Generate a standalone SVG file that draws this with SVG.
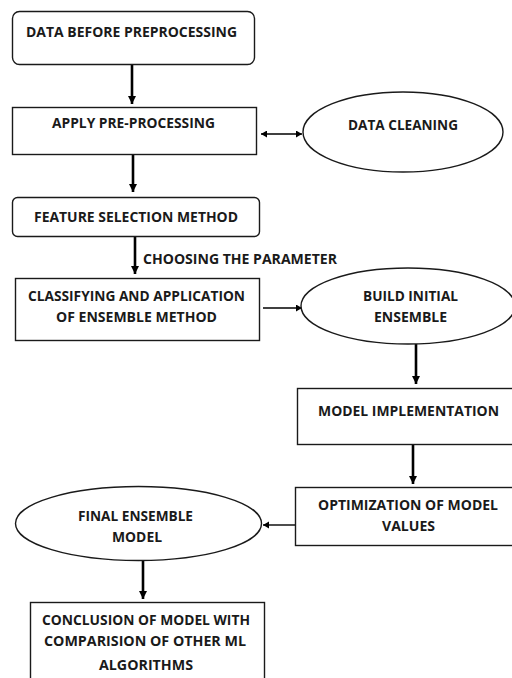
<svg xmlns="http://www.w3.org/2000/svg" width="512" height="678" viewBox="0 0 512 678">
  <style>
    .box { fill: #ffffff; stroke: #1a1a1a; stroke-width: 1.4; }
    .lbl { font-family: "Open Sans", "Liberation Sans", Arial, sans-serif; font-weight: bold; font-size: 13.5px; fill: #1a1a1a; }
    .flow { stroke: #000000; stroke-width: 2.6; fill: none; }
    .link { stroke: #000000; stroke-width: 1.4; fill: none; }
  </style>
  <defs>
    <marker id="head" markerUnits="userSpaceOnUse" markerWidth="10" markerHeight="10" refX="8" refY="4" orient="auto">
      <path d="M0,0 L8,4 L0,8 Z" fill="#000"/>
    </marker>
    <marker id="headS" markerUnits="userSpaceOnUse" markerWidth="8" markerHeight="8" refX="6" refY="3.5" orient="auto">
      <path d="M0,0 L6,3.5 L0,7 Z" fill="#000"/>
    </marker>
    <marker id="tailS" markerUnits="userSpaceOnUse" markerWidth="8" markerHeight="8" refX="0" refY="3.5" orient="auto">
      <path d="M6,0 L0,3.5 L6,7 Z" fill="#000"/>
    </marker>
  </defs>
  <rect width="512" height="678" fill="#ffffff"/>

  <g id="connectors">
    <line class="flow" x1="132" y1="64" x2="132" y2="104" marker-end="url(#head)"/>
    <line class="link" x1="261" y1="134" x2="302" y2="134" marker-start="url(#tailS)" marker-end="url(#headS)"/>
    <line class="flow" x1="133" y1="155" x2="133" y2="192" marker-end="url(#head)"/>
    <line class="flow" x1="135" y1="236" x2="135" y2="274" marker-end="url(#head)"/>
    <text class="lbl" x="143" y="264" textLength="194" lengthAdjust="spacingAndGlyphs">CHOOSING THE PARAMETER</text>
    <line class="link" x1="263" y1="308" x2="302" y2="308" marker-end="url(#headS)"/>
    <line class="flow" x1="416" y1="344" x2="416" y2="384" marker-end="url(#head)"/>
    <line class="flow" x1="413" y1="445" x2="413" y2="484" marker-end="url(#head)"/>
    <line class="link" x1="295" y1="525" x2="263" y2="525" marker-end="url(#headS)"/>
    <line class="flow" x1="143" y1="560" x2="143" y2="599" marker-end="url(#head)"/>
  </g>

  <g id="data-before">
    <rect class="box" x="12.5" y="11.5" width="242" height="53" rx="7"/>
    <text class="lbl" x="26" y="37" textLength="211" lengthAdjust="spacingAndGlyphs">DATA BEFORE PREPROCESSING</text>
  </g>

  <g id="apply-preprocessing">
    <rect class="box" x="12.5" y="107.5" width="244" height="47"/>
    <text class="lbl" x="52" y="128" textLength="163" lengthAdjust="spacingAndGlyphs">APPLY PRE-PROCESSING</text>
  </g>

  <g id="data-cleaning">
    <ellipse class="box" cx="403" cy="132" rx="100" ry="40"/>
    <text class="lbl" x="348" y="130" textLength="110" lengthAdjust="spacingAndGlyphs">DATA CLEANING</text>
  </g>

  <g id="feature-selection">
    <rect class="box" x="12.5" y="197.5" width="247" height="39" rx="5"/>
    <text class="lbl" x="34" y="222" textLength="204" lengthAdjust="spacingAndGlyphs">FEATURE SELECTION METHOD</text>
  </g>

  <g id="classifying">
    <rect class="box" x="15.5" y="278.5" width="244" height="62"/>
    <text class="lbl" x="28" y="301" textLength="217" lengthAdjust="spacingAndGlyphs">CLASSIFYING AND APPLICATION</text>
    <text class="lbl" x="56" y="322" textLength="161" lengthAdjust="spacingAndGlyphs">OF ENSEMBLE METHOD</text>
  </g>

  <g id="build-initial">
    <ellipse class="box" cx="408" cy="306" rx="107" ry="38"/>
    <text class="lbl" x="363" y="301" textLength="95" lengthAdjust="spacingAndGlyphs">BUILD INITIAL</text>
    <text class="lbl" x="374" y="322" textLength="73" lengthAdjust="spacingAndGlyphs">ENSEMBLE</text>
  </g>

  <g id="model-implementation">
    <rect class="box" x="297.5" y="388.5" width="230" height="56"/>
    <text class="lbl" x="318" y="416" textLength="181" lengthAdjust="spacingAndGlyphs">MODEL IMPLEMENTATION</text>
  </g>

  <g id="optimization">
    <rect class="box" x="295.5" y="487.5" width="230" height="58"/>
    <text class="lbl" x="318" y="510" textLength="180" lengthAdjust="spacingAndGlyphs">OPTIMIZATION OF MODEL</text>
    <text class="lbl" x="382" y="531" textLength="53" lengthAdjust="spacingAndGlyphs">VALUES</text>
  </g>

  <g id="final-ensemble">
    <ellipse class="box" cx="138.5" cy="523.5" rx="123" ry="37"/>
    <text class="lbl" x="78" y="521" textLength="115" lengthAdjust="spacingAndGlyphs">FINAL ENSEMBLE</text>
    <text class="lbl" x="112" y="542" textLength="50" lengthAdjust="spacingAndGlyphs">MODEL</text>
  </g>

  <g id="conclusion">
    <rect class="box" x="30.5" y="602.5" width="234" height="90"/>
    <text class="lbl" x="42" y="625" textLength="208" lengthAdjust="spacingAndGlyphs">CONCLUSION OF MODEL WITH</text>
    <text class="lbl" x="44" y="646" textLength="202" lengthAdjust="spacingAndGlyphs">COMPARISION OF OTHER ML</text>
    <text class="lbl" x="99" y="670" textLength="94" lengthAdjust="spacingAndGlyphs">ALGORITHMS</text>
  </g>
</svg>
